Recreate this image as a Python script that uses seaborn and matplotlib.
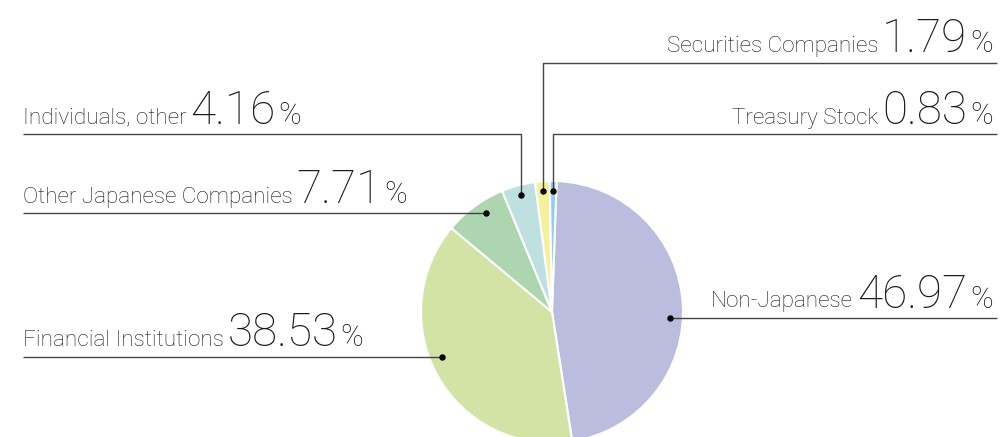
import numpy as np
import matplotlib
matplotlib.use("Agg")
import matplotlib.pyplot as plt
import seaborn as sns

# Shareholder composition (%)
categories = ["Non-Japanese", "Financial Institutions", "Other Japanese Companies",
              "Individuals, other", "Securities Companies", "Treasury Stock"]
shares = [46.97, 38.53, 7.71, 4.16, 1.79, 0.83]
value_labels = ["46.97", "38.53", "7.71", "4.16", "1.79", "0.83"]
colors = ["#bbbddf", "#d3e3a5", "#acd5b0", "#bee0df", "#f5f19b", "#8ecff0"]

W, H = 1002, 437
sns.set_theme(style="white")
plt.rcParams["font.family"] = ["Roboto", "DejaVu Sans"]

fig = plt.figure(figsize=(W / 100, H / 100), dpi=100)
ax = fig.add_axes([0, 0, 1, 1])

cx, cy, R = 552, H - 312, 131
wedges, _ = ax.pie(shares, colors=sns.color_palette(colors), startangle=88,
                   counterclock=False, center=(cx, cy), radius=R,
                   wedgeprops=dict(edgecolor="white", linewidth=1.5))
ax.set_xlim(0, W)
ax.set_ylim(0, H)
ax.set_aspect("equal")
ax.axis("off")

# label placement: side, row of the leader line (px from top), leader style
layout = {
    "Non-Japanese": ("R", 318.0, "h"),
    "Financial Institutions": ("L", 356.7, "h"),
    "Other Japanese Companies": ("L", 213.3, "h"),
    "Individuals, other": ("L", 134.3, "v"),
    "Securities Companies": ("R", 62.7, "v"),
    "Treasury Stock": ("R", 134.3, "v"),
}
XL, XR = 22.7, 997.0
TEXT_RIGHT = 993.0
LINE_C = "#444444"
TXT_C = "#1a1a1a"
FS_LABEL, FS_NUM, FS_PCT = 16.2, 33, 22

fig.canvas.draw()
renderer = fig.canvas.get_renderer()


def width(t):
    return t.get_window_extent(renderer).width


for w, cat, val in zip(wedges, categories, value_labels):
    side, row, kind = layout[cat]
    ly = H - row
    mid = np.deg2rad((w.theta1 + w.theta2) / 2)
    if kind == "v":
        dx = cx + 0.925 * R * np.cos(mid)
        dy = cy + 0.925 * R * np.sin(mid)
        xs = [dx, dx, XL if side == "L" else XR]
        ys = [dy, ly, ly]
    else:
        r = 0.905 * R
        off = np.sqrt(max(r ** 2 - (ly - cy) ** 2, 0))
        dx = cx - off if side == "L" else cx + off
        dy = ly
        xs = [dx, XL if side == "L" else XR]
        ys = [ly, ly]
    ax.plot(xs, ys, color=LINE_C, lw=1.0, solid_capstyle="butt", zorder=3)
    ax.plot([dx], [dy], "o", color="black", ms=3.6, zorder=4)

    by = ly + 10.5
    if side == "L":
        t1 = ax.text(XL, by, cat, fontsize=FS_LABEL, color=TXT_C, va="baseline",
                     ha="left", fontweight="light")
        x = XL + width(t1) + 4
        t2 = ax.text(x, by, val, fontsize=FS_NUM, color=TXT_C, va="baseline",
                     ha="left", fontweight="light")
        x += width(t2) + 3
        ax.text(x, by, "%", fontsize=FS_PCT, color=TXT_C, va="baseline",
                ha="left", fontweight="light")
    else:
        t3 = ax.text(TEXT_RIGHT, by, "%", fontsize=FS_PCT, color=TXT_C,
                     va="baseline", ha="right", fontweight="light")
        x = TEXT_RIGHT - width(t3) - 3
        t2 = ax.text(x, by, val, fontsize=FS_NUM, color=TXT_C, va="baseline",
                     ha="right", fontweight="light")
        x -= width(t2) + 4
        ax.text(x, by, cat, fontsize=FS_LABEL, color=TXT_C, va="baseline",
                ha="right", fontweight="light")

fig.savefig("out.png", dpi=100, facecolor="white")
